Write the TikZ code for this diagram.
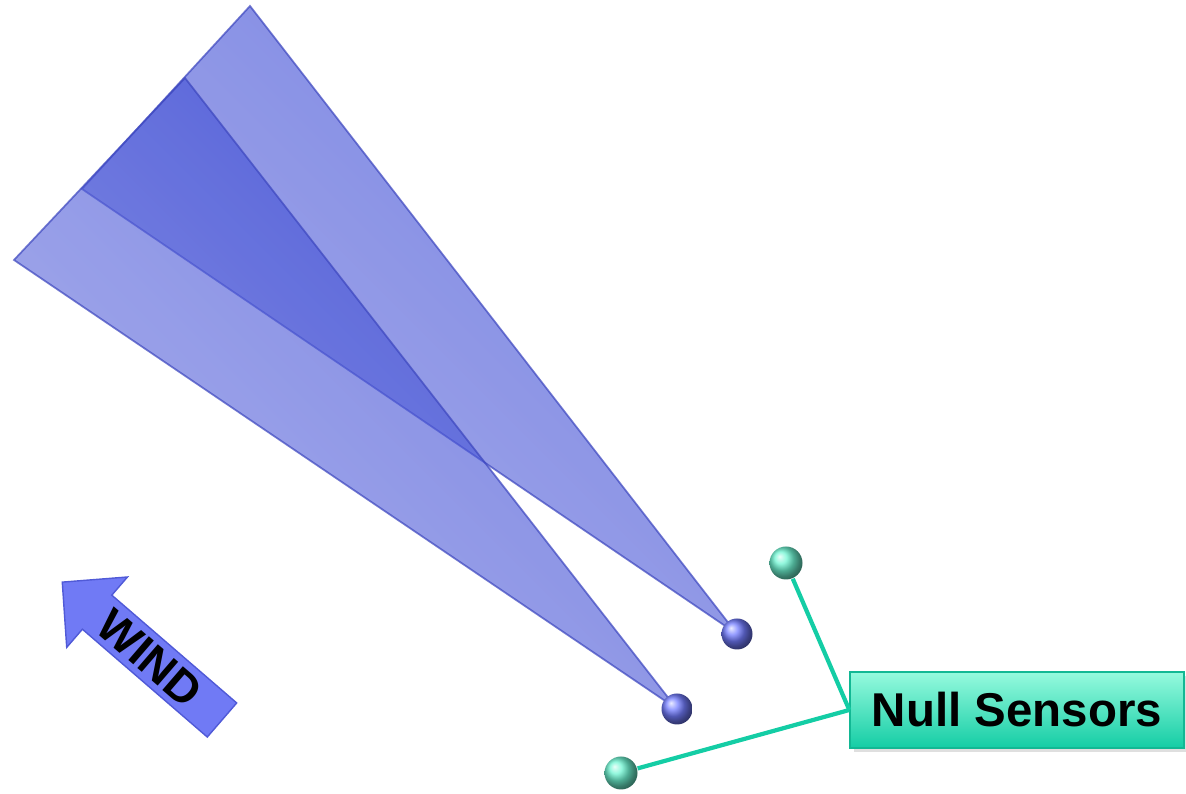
\documentclass[tikz,border=0pt]{standalone}
\usepackage{fontspec}
\setsansfont{Liberation Sans}
\usetikzlibrary{positioning, shadows}
\definecolor{cfan}{RGB}{47,63,210}
\definecolor{cfantip}{RGB}{113,122,223}
\definecolor{cfanedge}{RGB}{60,70,190}
\definecolor{csensor}{RGB}{115,125,255}
\definecolor{cteal}{RGB}{20,205,165}
\definecolor{lightteal}{RGB}{150,250,222}
\definecolor{csensorteal}{RGB}{110,245,210}
\definecolor{cwind}{RGB}{112,122,245}
\definecolor{cwindedge}{RGB}{80,90,215}

\tikzset{
  fan/.style={left color=cfan, right color=cfantip, shading angle=-45, fill opacity=0.63,
    draw=cfanedge, draw opacity=0.7, line width=0.5pt},
  sensor/.style={circle, minimum size=0.31cm, inner sep=0pt, shading=ball, ball color=csensor},
  nullsensor/.style={circle, minimum size=0.33cm, inner sep=0pt, shading=ball, ball color=csensorteal},
  link/.style={cteal, line width=1.2pt},
  labelbox/.style={draw=cteal!90!black, top color=lightteal, bottom color=cteal,
    minimum width=3.34cm, minimum height=0.76cm, inner sep=0pt,
    font=\sffamily\bfseries\fontsize{13.5}{16}\selectfont,
    drop shadow={opacity=0.25, shadow xshift=0.04cm, shadow yshift=-0.04cm}},
  windarrow/.style={fill=cwind, draw=cwindedge, line width=0.4pt},
}

\begin{document}
\begin{tikzpicture}
  \useasboundingbox (0,0) rectangle (11.86,7.94);
  % Tips of the two fans
  \coordinate (tipA) at (7.37,1.60);
  \coordinate (tipB) at (6.77,0.85);

  % Fans
  \path[fan] (2.50,7.88) -- (0.82,6.05) -- (tipA) -- cycle;
  \path[fan] (1.85,7.16) -- (0.14,5.34) -- (tipB) -- cycle;

  % Sensors
  \node[sensor] (sA) at (tipA) {};
  \node[sensor] (sB) at (tipB) {};
  \node[nullsensor] (nA) at (7.86,2.31) {};
  \node[nullsensor] (nB) at (6.21,0.21) {};

  % Label
  \node[labelbox] (null) at (10.17,0.84) {Null Sensors};
  \draw[link] (nA) -- (null.west);
  \draw[link] (nB) -- (null.west);

  % Wind arrow
  \begin{scope}[shift={(2.22,0.74)}, rotate=139.2]
    \filldraw[windarrow] (0,-0.225) -- (1.65,-0.225) -- (1.65,-0.465) -- (2.11,0)
      -- (1.65,0.465) -- (1.65,0.225) -- (0,0.225) -- cycle;
    \node[rotate=-40.8, font=\sffamily\bfseries\fontsize{13}{15}\selectfont] (wind) at (0.95,0) {WIND};
  \end{scope}
\end{tikzpicture}
\end{document}
